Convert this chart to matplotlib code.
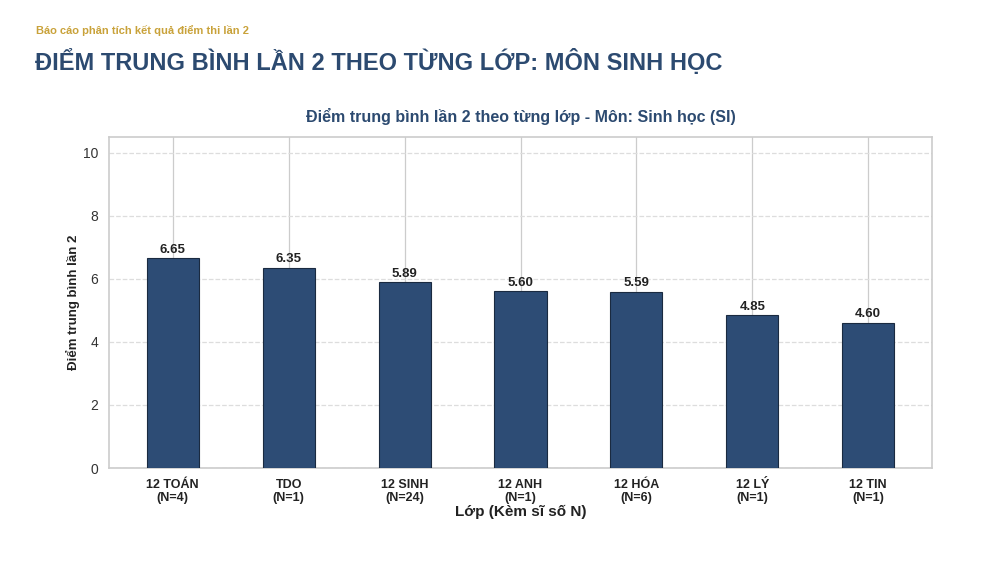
import matplotlib
matplotlib.use("Agg")
import matplotlib.pyplot as plt

categories = ["12 TOÁN\n(N=4)", "TDO\n(N=1)", "12 SINH\n(N=24)", "12 ANH\n(N=1)",
              "12 HÓA\n(N=6)", "12 LÝ\n(N=1)", "12 TIN\n(N=1)"]
values = [6.65, 6.35, 5.89, 5.60, 5.59, 4.85, 4.60]
yticks = [0, 2, 4, 6, 8, 10]

plt.rcParams['font.family'] = ['Liberation Sans', 'DejaVu Sans']

fig = plt.figure(figsize=(10, 5.61), dpi=100)
fig.patch.set_facecolor('white')

fig.text(0.036, 1 - 31/561, "Báo cáo phân tích kết quả điểm thi lần 2", color='#C9A23A',
         fontsize=8, fontweight='bold', va='center', ha='left')
fig.text(0.035, 1 - 62/561, "ĐIỂM TRUNG BÌNH LẦN 2 THEO TỪNG LỚP: MÔN SINH HỌC", color='#2C4A70',
         fontsize=17, fontweight='bold', va='center', ha='left')

ax = fig.add_axes([109/1000, 1 - 468/561, (932-109)/1000, (468-137)/561])
x = list(range(len(categories)))
bars = ax.bar(x, values, width=0.45, color='#2D4C75', edgecolor='#1a2a40', linewidth=0.8, zorder=3)
for xi, v in zip(x, values):
    ax.text(xi, v + 0.08, f"{v:.2f}", ha='center', va='bottom', fontsize=9.5,
            fontweight='bold', color='#222222', zorder=4)

ax.set_xlim(-0.55, 6.55)
ax.set_ylim(0, 10.5)
ax.set_yticks(yticks)
ax.set_xticks(x)
ax.set_xticklabels(categories, fontsize=9, fontweight='bold', color='#222222', linespacing=1.1)
ax.tick_params(axis='y', labelsize=10, colors='#333333', length=0, pad=8)
ax.tick_params(axis='x', length=0, pad=8)
ax.yaxis.grid(True, linestyle='--', color='#dddddd', linewidth=0.9, zorder=0)
ax.xaxis.grid(True, linestyle='-', color='#cccccc', linewidth=0.9, zorder=0)
for s in ax.spines.values():
    s.set_color('#cccccc')
    s.set_linewidth(1.2)

ax.set_title("Điểm trung bình lần 2 theo từng lớp - Môn: Sinh học (SI)", fontsize=11.5,
             fontweight='bold', color='#2C4A70', pad=11)
ax.set_xlabel("Lớp (Kèm sĩ số N)", fontsize=11, fontweight='bold', color='#222222', labelpad=1)
ax.set_ylabel("Điểm trung bình lần 2", fontsize=9.5, fontweight='bold', color='#222222', labelpad=2)

fig.savefig("out.png", dpi=100)
